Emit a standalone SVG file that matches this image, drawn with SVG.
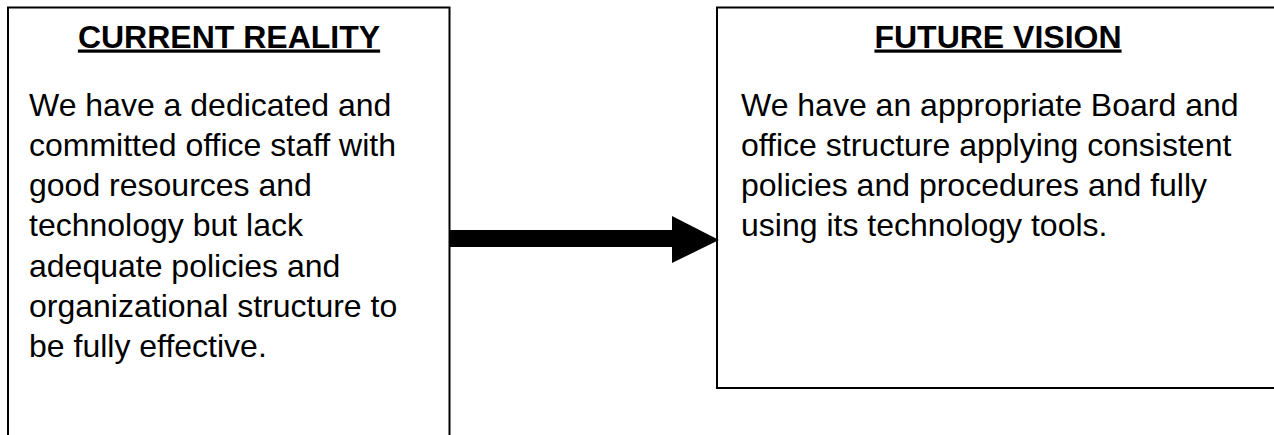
<svg xmlns="http://www.w3.org/2000/svg" width="1274" height="435" viewBox="0 0 1274 435">
<style>
.box{fill:#fff;stroke:#000;stroke-width:2}
.title{font-family:"Liberation Sans",Arial,sans-serif;font-size:32px;font-weight:bold;text-anchor:middle;fill:#000;text-decoration:underline}
.body{font-family:"Liberation Sans",Arial,sans-serif;font-size:32px;fill:#000}
</style>
<rect width="1274" height="435" fill="#fff"/>
<g id="current-reality">
<rect class="box" x="8" y="7.5" width="441.5" height="440"/>
<text class="title" x="229" y="47.5">CURRENT REALITY</text>
<text class="body" x="29" y="115.5">We have a dedicated and</text>
<text class="body" x="29" y="155.8">committed office staff with</text>
<text class="body" x="29" y="196.1">good resources and</text>
<text class="body" x="29" y="236.4">technology but lack</text>
<text class="body" x="29" y="276.7">adequate policies and</text>
<text class="body" x="29" y="317">organizational structure to</text>
<text class="body" x="29" y="357.3">be fully effective.</text>
</g>
<g id="future-vision">
<rect class="box" x="717" y="7.5" width="570" height="380.5"/>
<text class="title" x="998" y="47.5">FUTURE VISION</text>
<text class="body" x="741" y="115.5">We have an appropriate Board and</text>
<text class="body" x="741" y="155.8">office structure applying consistent</text>
<text class="body" x="741" y="196.1">policies and procedures and fully</text>
<text class="body" x="741" y="236.4">using its technology tools.</text>
</g>
<g id="connectors">
<polygon points="450,230 672,230 672,216 719,240 672,263 672,247 450,247" fill="#000"/>
</g>
</svg>
